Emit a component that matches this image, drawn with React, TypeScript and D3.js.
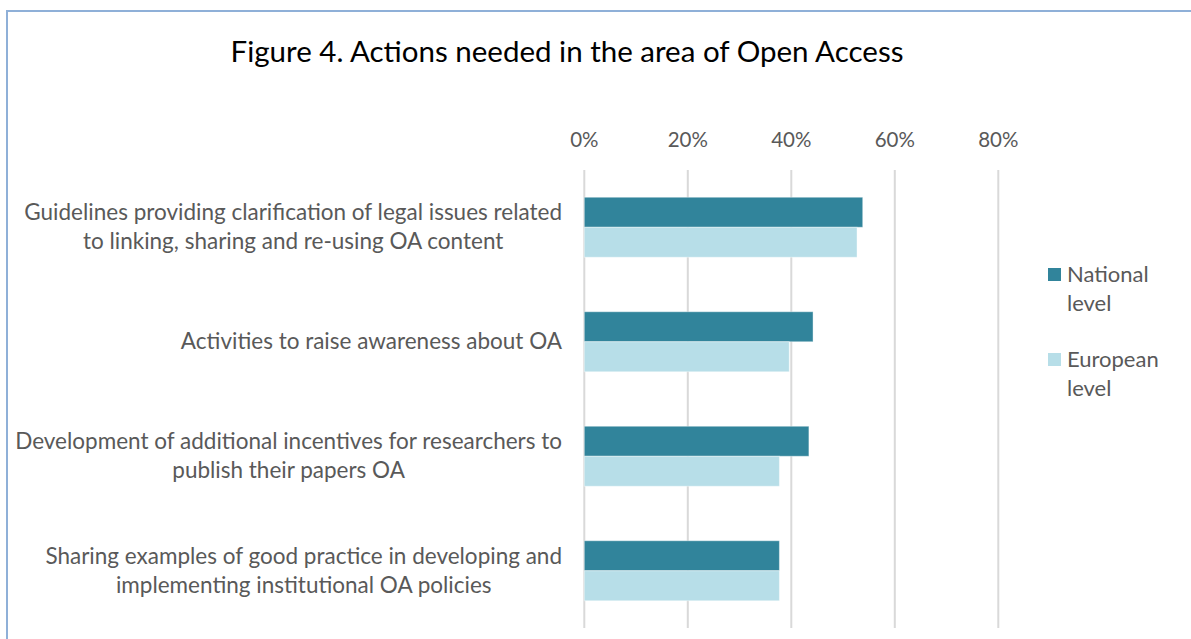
import React, { useEffect, useRef } from "react";
import * as d3 from "d3";

const title = "Figure 4. Actions needed in the area of Open Access";
const categories: string[][] = [
  ["Guidelines providing clarification of legal issues related", "to linking, sharing and re-using OA content"],
  ["Activities to raise awareness about OA"],
  ["Development of additional incentives for researchers to", "publish their papers OA"],
  ["Sharing examples of good practice in developing and", "implementing institutional OA policies"],
];
const seriesNames = ["National level", "European level"];
const nationalValues = [0.538, 0.442, 0.434, 0.377];
const europeanValues = [0.527, 0.396, 0.377, 0.377];
const tickValues = [0, 0.2, 0.4, 0.6, 0.8];
const colors = ["#31849b", "#b7dee8"];

const W = 1191;
const H = 639;
const FONT = "Lato, 'Open Sans', sans-serif";
const TEXT = "#595959";

export default function App() {
  const ref = useRef<SVGSVGElement>(null);

  useEffect(() => {
    const svg = d3.select(ref.current);
    svg.selectAll("*").remove();

    // border
    svg.append("rect")
      .attr("x", 7).attr("y", 11).attr("width", W + 20).attr("height", H + 20)
      .attr("fill", "#fff").attr("stroke", "#8fb0d8").attr("stroke-width", 2);

    svg.append("text")
      .attr("x", 567).attr("y", 62)
      .attr("text-anchor", "middle")
      .attr("font-family", FONT).attr("font-size", 29.5)
      .attr("fill", "#000")
      .text(title);

    const x = d3.scaleLinear().domain([0, 0.8]).range([584.3, 584.3 + 103.5 * 4]);
    const y = d3.scaleBand<number>()
      .domain(d3.range(categories.length))
      .range([170, 628])
      .paddingInner(0.476)
      .paddingOuter(0.238);
    const sub = d3.scaleBand<number>().domain([0, 1]).range([0, y.bandwidth()]);

    // gridlines
    svg.append("g").selectAll("line").data(tickValues).join("line")
      .attr("x1", d => x(d)).attr("x2", d => x(d))
      .attr("y1", 170).attr("y2", 628)
      .attr("stroke", "#d9d9d9").attr("stroke-width", 2);

    // tick labels
    svg.append("g").selectAll("text").data(tickValues).join("text")
      .attr("x", d => x(d)).attr("y", 146.5)
      .attr("text-anchor", "middle")
      .attr("font-family", FONT).attr("font-size", 20.5)
      .attr("fill", TEXT)
      .text(d => d3.format(".0%")(d));

    // bars
    const series = [nationalValues, europeanValues];
    series.forEach((vals, si) => {
      svg.append("g").selectAll("rect").data(vals).join("rect")
        .attr("x", x(0))
        .attr("y", (_, i) => (y(i) as number) + (sub(si) as number))
        .attr("width", d => x(d) - x(0))
        .attr("height", sub.bandwidth())
        .attr("fill", colors[si])
        .attr("stroke", "#ffffff").attr("stroke-opacity", 0.4).attr("stroke-width", 1);
    });

    // category labels
    const lineH = 29;
    const labelRight = 562;
    categories.forEach((lines, i) => {
      const cy = (y(i) as number) + y.bandwidth() / 2;
      const g = svg.append("g");
      const texts = lines.map((ln, li) =>
        g.append("text")
          .attr("y", cy + (li - (lines.length - 1) / 2) * lineH + 7.5)
          .attr("text-anchor", "middle")
          .attr("font-family", FONT).attr("font-size", 22.5)
          .attr("fill", TEXT)
          .text(ln)
      );
      const widths = texts.map(t => (t.node() as SVGTextElement).getComputedTextLength());
      const maxW = Math.max(...widths);
      texts.forEach(t => t.attr("x", labelRight - maxW / 2));
    });

    // legend
    const legendLines = [["National", "level"], ["European", "level"]];
    legendLines.forEach((lines, i) => {
      const top = 268 + i * 85;
      svg.append("rect")
        .attr("x", 1048).attr("y", top).attr("width", 13).attr("height", 13)
        .attr("fill", colors[i]);
      lines.forEach((ln, li) => {
        svg.append("text")
          .attr("x", 1067).attr("y", top + 14 + li * 29)
          .attr("font-family", FONT).attr("font-size", 22)
          .attr("fill", TEXT)
          .text(ln);
      });
    });
  }, []);

  return (
    <svg
      ref={ref}
      width={W}
      height={H}
      style={{ position: "absolute", left: 0, top: 0, background: "#fff" }}
      aria-label={seriesNames.join(", ")}
    />
  );
}
